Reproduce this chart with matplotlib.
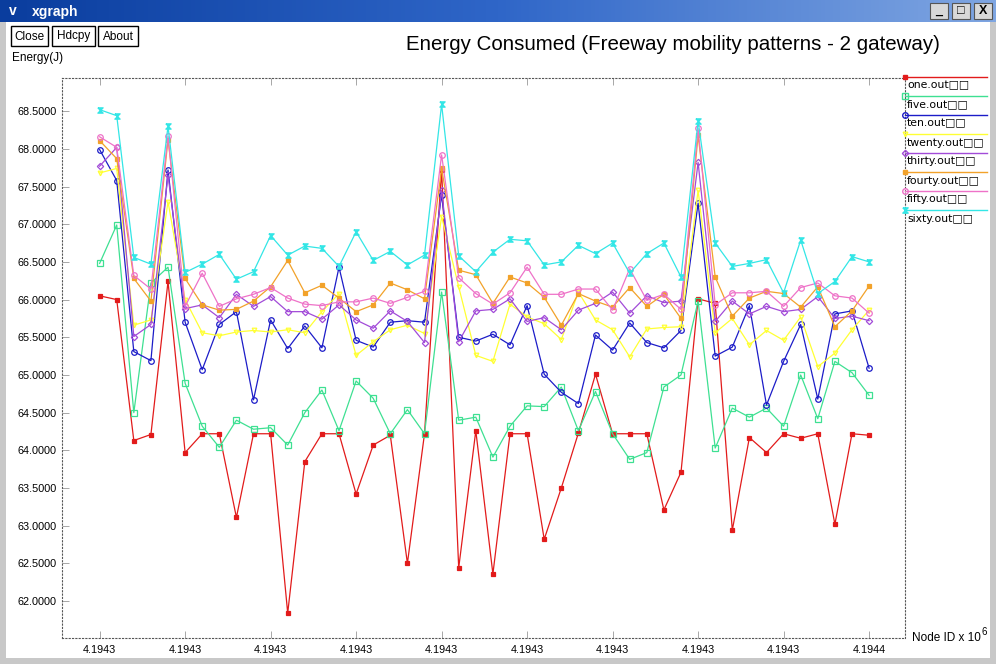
import numpy as np
import matplotlib
matplotlib.use('Agg')
import matplotlib.pyplot as plt
from matplotlib.path import Path
from matplotlib.patches import Rectangle
from matplotlib.colors import LinearSegmentedColormap

plt.rcParams['font.family'] = ['Liberation Sans', 'DejaVu Sans']

# node ids on the x axis (ticks every 5 nodes)
node_ids = np.arange(4194305, 4194351)
x_ticks = node_ids[::5]
x_tick_labels = ['4.1943'] * 9 + ['4.1944']
y_ticks = np.arange(62.0, 68.51, 0.5)

# energy values, one list per trace file
one_out = [66.05, 66.00, 64.13, 64.21, 66.24, 63.97, 64.22, 64.22, 63.11, 64.22,
           64.22, 61.84, 63.85, 64.22, 64.22, 63.42, 64.07, 64.20, 62.50, 64.22,
           67.72, 62.44, 64.26, 62.36, 64.22, 64.22, 62.82, 63.50, 64.23, 65.01,
           64.22, 64.22, 64.22, 63.21, 63.71, 66.01, 65.95, 62.94, 64.17, 63.97,
           64.22, 64.16, 64.22, 63.02, 64.22, 64.20]
five_out = [66.48, 66.99, 64.50, 66.22, 66.43, 64.89, 64.32, 64.04, 64.40, 64.28,
            64.30, 64.07, 64.50, 64.80, 64.26, 64.92, 64.69, 64.22, 64.54, 64.22,
            66.10, 64.40, 64.44, 63.91, 64.32, 64.59, 64.58, 64.84, 64.26, 64.78,
            64.22, 63.88, 63.97, 64.84, 65.00, 65.98, 64.03, 64.56, 64.44, 64.56,
            64.32, 65.00, 64.42, 65.18, 65.03, 64.73]
ten_out = [67.99, 67.58, 65.31, 65.19, 67.72, 65.70, 65.07, 65.67, 65.84, 64.67,
           65.73, 65.35, 65.65, 65.36, 66.43, 65.46, 65.37, 65.70, 65.72, 65.70,
           67.39, 65.50, 65.45, 65.54, 65.40, 65.92, 65.01, 64.77, 64.62, 65.53,
           65.33, 65.69, 65.43, 65.36, 65.59, 67.28, 65.25, 65.37, 65.92, 64.60,
           65.18, 65.67, 64.68, 65.81, 65.85, 65.09]
twenty_out = [67.68, 67.74, 65.66, 65.73, 67.30, 66.00, 65.56, 65.52, 65.57, 65.59,
              65.57, 65.60, 65.56, 65.84, 66.08, 65.26, 65.44, 65.60, 65.66, 65.55,
              67.10, 66.17, 65.26, 65.18, 65.94, 65.77, 65.68, 65.47, 66.10, 65.73,
              65.60, 65.24, 65.61, 65.63, 65.64, 67.45, 65.56, 65.75, 65.40, 65.59,
              65.46, 65.77, 65.11, 65.29, 65.60, 65.86]
thirty_out = [67.77, 68.02, 65.51, 65.67, 67.65, 65.88, 65.93, 65.76, 66.07, 65.91,
              66.04, 65.84, 65.84, 65.74, 65.93, 65.73, 65.62, 65.85, 65.71, 65.43,
              67.45, 65.44, 65.85, 65.87, 66.01, 65.71, 65.76, 65.60, 65.86, 65.95,
              66.10, 65.82, 66.05, 65.96, 65.98, 67.82, 65.71, 65.98, 65.81, 65.91,
              65.84, 65.87, 66.04, 65.75, 65.78, 65.72]
fourty_out = [68.11, 67.87, 66.28, 65.98, 68.12, 66.28, 65.93, 65.86, 65.87, 65.98,
              66.17, 66.52, 66.09, 66.19, 66.02, 65.84, 65.93, 66.22, 66.13, 66.01,
              67.74, 66.39, 66.33, 65.95, 66.30, 66.22, 66.03, 65.66, 66.08, 65.98,
              65.90, 66.16, 65.91, 66.07, 65.75, 68.18, 66.30, 65.78, 66.02, 66.11,
              66.08, 65.90, 66.17, 65.64, 65.85, 66.18]
fifty_out = [68.16, 68.02, 66.32, 66.14, 68.17, 65.91, 66.35, 65.91, 66.01, 66.07,
             66.16, 66.02, 65.94, 65.92, 65.97, 65.97, 66.02, 65.95, 66.03, 66.11,
             67.92, 66.29, 66.08, 65.94, 66.09, 66.43, 66.07, 66.07, 66.14, 66.14,
             65.86, 66.41, 65.99, 66.07, 65.87, 68.27, 65.93, 66.09, 66.09, 66.11,
             65.91, 66.16, 66.22, 66.05, 66.02, 65.82]
sixty_out = [68.52, 68.44, 66.56, 66.47, 68.30, 66.36, 66.47, 66.60, 66.27, 66.37,
             66.85, 66.59, 66.71, 66.68, 66.44, 66.90, 66.52, 66.64, 66.46, 66.59,
             68.59, 66.58, 66.37, 66.63, 66.80, 66.78, 66.46, 66.50, 66.72, 66.61,
             66.75, 66.35, 66.61, 66.75, 66.30, 68.37, 66.75, 66.44, 66.48, 66.53,
             66.09, 66.79, 66.08, 66.24, 66.57, 66.50]

names = ['one.out', 'five.out', 'ten.out', 'twenty.out',
         'thirty.out', 'fourty.out', 'fifty.out', 'sixty.out']
series = [one_out, five_out, ten_out, twenty_out,
          thirty_out, fourty_out, fifty_out, sixty_out]
colors = ['#e21b1b', '#3ee092', '#1c1cc8', '#ffff33',
          '#a24bd8', '#f2a22a', '#ee72c8', '#33e6e6']

hourglass = Path([(-1, 1), (1, 1), (-1, -1), (1, -1), (-1, 1)])
# (marker, size, filled)
markers = [('s', 2.2, True), ('s', 3.8, False), ('o', 4.0, False), ('v', 3.3, False),
           ('D', 3.2, False), ('s', 3.0, True), ('o', 4.0, False), (hourglass, 3.8, True)]

fig = plt.figure(figsize=(9.96, 6.64), dpi=100)
fig.patch.set_facecolor('white')

ax = fig.add_axes([62 / 996, 1 - 638 / 664, 843 / 996, 560 / 664])
for vals, c, (m, ms, filled) in zip(series, colors, markers):
    ax.plot(node_ids, vals, color=c, lw=0.9, marker=m, ms=ms,
            mfc=c if filled else 'none', mec=c, mew=0.9)

ax.set_xlim(node_ids[0] - 2.2, node_ids[-1] + 2.1)
ax.set_ylim(61.51, 68.94)
ax.set_xticks(x_ticks)
ax.set_xticklabels(x_tick_labels)
ax.set_yticks(y_ticks)
ax.set_yticklabels(['%.4f' % v for v in y_ticks])
ax.tick_params(axis='both', direction='in', length=5, color='#999999', width=0.6,
               labelsize=7.8, top=True, right=False)
ax.tick_params(axis='y', pad=4)
ax.tick_params(axis='x', pad=5)
for s in ax.spines.values():
    s.set_linestyle((0, (1, 2)))
    s.set_color('#555555')
    s.set_linewidth(0.8)

# window chrome + legend drawn in pixel coordinates
ov = fig.add_axes([0, 0, 1, 1], zorder=5)
ov.set_xlim(0, 996)
ov.set_ylim(664, 0)
ov.axis('off')
ov.patch.set_alpha(0)

grad = np.linspace(0, 1, 256).reshape(1, -1)
bar_cmap = LinearSegmentedColormap.from_list('bar', ['#0a3d9e', '#2f66c8', '#7fa6e2'])
ov.imshow(grad, cmap=bar_cmap, extent=(0, 996, 22, 0), aspect='auto', zorder=1)
ov.text(32, 12, 'xgraph', color='white', fontsize=10, fontweight='bold', va='center', zorder=3)
ov.text(13, 11, 'v', color='white', fontsize=10, fontweight='bold', va='center', ha='center', zorder=3)
for bx, sym in zip([930, 952, 974], ['_', '□', 'X']):
    ov.add_patch(Rectangle((bx, 3), 18, 16, facecolor='#d8d8d8', edgecolor='#555555', lw=0.8, zorder=2))
    ov.text(bx + 9, 11, sym, fontsize=9, ha='center', va='center', fontweight='bold', zorder=3)
# window frame
ov.add_patch(Rectangle((0, 22), 6, 642, facecolor='#c8c8c8', edgecolor='none'))
ov.add_patch(Rectangle((990, 22), 6, 642, facecolor='#c8c8c8', edgecolor='none'))
ov.add_patch(Rectangle((0, 658), 996, 6, facecolor='#c8c8c8', edgecolor='none'))

for bx, bw, lab in [(11, 37, 'Close'), (52, 43, 'Hdcpy'), (98, 40, 'About')]:
    ov.add_patch(Rectangle((bx, 26), bw, 20, facecolor='white', edgecolor='black', lw=1.0))
    ov.text(bx + bw / 2, 36.5, lab, fontsize=8.5, ha='center', va='center')

ov.text(673, 45, 'Energy Consumed (Freeway mobility patterns - 2 gateway)',
        fontsize=14.8, ha='center', va='center')
ov.text(12, 58, 'Energy(J)', fontsize=8.5, va='center')
ov.text(912, 638, 'Node ID x 10', fontsize=8.5, va='center')
ov.text(982, 632, '6', fontsize=7, va='center')

for k, (name, c, (m, ms, filled)) in enumerate(zip(names, colors, markers)):
    ly = 77 + 19 * k
    ov.plot([905, 987], [ly, ly], color=c, lw=1.0)
    ov.plot([905], [ly], color=c, marker=m, ms=ms, mfc=c if filled else 'none', mec=c)
    ov.text(907, ly + 8.5, name + '□□', fontsize=7.8, va='center', family=['DejaVu Sans'])

fig.savefig('out.png', dpi=100)
